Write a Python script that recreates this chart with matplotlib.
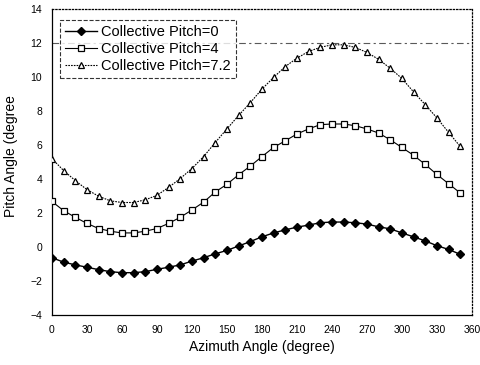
import matplotlib.pyplot as plt

plt.rcParams['font.family'] = ['Liberation Sans', 'DejaVu Sans']

# azimuth angles (degree)
azimuth = [0, 10, 20, 30, 40, 50, 60, 70, 80, 90, 100, 110, 120, 130, 140, 150, 160, 170,
           180, 190, 200, 210, 220, 230, 240, 250, 260, 270, 280, 290, 300, 310, 320, 330, 340, 350]

# pitch angle for collective pitch = 0
pitch_0 = [-0.63, -0.89, -1.05, -1.19, -1.33, -1.45, -1.51, -1.51, -1.45, -1.31, -1.19, -1.05,
           -0.83, -0.63, -0.40, -0.20, 0.06, 0.32, 0.60, 0.83, 1.01, 1.17, 1.29, 1.43,
           1.47, 1.47, 1.43, 1.35, 1.19, 1.07, 0.83, 0.60, 0.36, 0.08, -0.14, -0.43]

# collective pitch = 4
pitch_4 = [2.68, 2.14, 1.75, 1.39, 1.09, 0.93, 0.83, 0.83, 0.93, 1.09, 1.39, 1.75,
           2.18, 2.64, 3.24, 3.69, 4.25, 4.76, 5.32, 5.86, 6.25, 6.65, 6.95, 7.20,
           7.24, 7.24, 7.14, 6.95, 6.71, 6.31, 5.86, 5.40, 4.86, 4.27, 3.73, 3.18]

# collective pitch = 7.2
pitch_72 = [5.20, 4.50, 3.91, 3.38, 2.99, 2.72, 2.62, 2.62, 2.78, 3.04, 3.51, 4.03,
            4.62, 5.32, 6.15, 6.95, 7.74, 8.49, 9.29, 9.98, 10.62, 11.11, 11.51, 11.75,
            11.90, 11.90, 11.75, 11.45, 11.05, 10.52, 9.92, 9.13, 8.38, 7.60, 6.75, 5.92]

xticks = list(range(0, 361, 30))
yticks = list(range(-4, 15, 2))

fig = plt.figure(figsize=(4.81, 3.65), dpi=100)
ax = fig.add_axes([0.108, 0.137, 0.873, 0.838])

# 12 度附近的虛線
ax.axhline(12, color='0.35', linestyle=(0, (6, 3, 2, 3)), linewidth=0.8, zorder=1)

ax.plot(azimuth, pitch_0, color='black', linestyle='-', linewidth=1.0, marker='D',
        markersize=3.6, markerfacecolor='black', label='Collective Pitch=0', zorder=3)
ax.plot(azimuth, pitch_4, color='black', linestyle='-', linewidth=0.8, marker='s',
        markersize=4.2, markerfacecolor='white', markeredgewidth=0.9,
        label='Collective Pitch=4', zorder=3)
ax.plot(azimuth, pitch_72, color='black', linestyle=(0, (1.5, 1)), linewidth=0.8, marker='^',
        markersize=4.5, markerfacecolor='white', markeredgewidth=0.9,
        label='Collective Pitch=7.2', zorder=3)

ax.set_xlim(0, 360)
ax.set_ylim(-4, 14)
ax.set_xticks(xticks)
ax.set_yticks(yticks)
ax.tick_params(axis='both', length=0, labelsize=7.5, pad=7)
ax.set_yticklabels(['\u22124', '\u22122', '0', '2', '4', '6', '8', '10', '12', '14'])

ax.spines['top'].set_linestyle(':')
ax.spines['right'].set_linestyle(':')
for s in ax.spines.values():
    s.set_linewidth(0.9)

ax.set_xlabel('Azimuth Angle (degree)', fontsize=10, labelpad=4)
ax.set_ylabel('Pitch Angle (degree', fontsize=10)
ax.yaxis.set_label_coords(-0.08, 0.52)

leg = ax.legend(loc='upper left', bbox_to_anchor=(0.018, 0.965), fontsize=10.5,
                frameon=True, fancybox=False, handlelength=2.2, handletextpad=0.3,
                borderpad=0.35, labelspacing=0.2, borderaxespad=0)
leg.get_frame().set_edgecolor('black')
leg.get_frame().set_linestyle('--')
leg.get_frame().set_linewidth(0.8)
leg.set_zorder(5)

plt.savefig('out.png', dpi=100)
